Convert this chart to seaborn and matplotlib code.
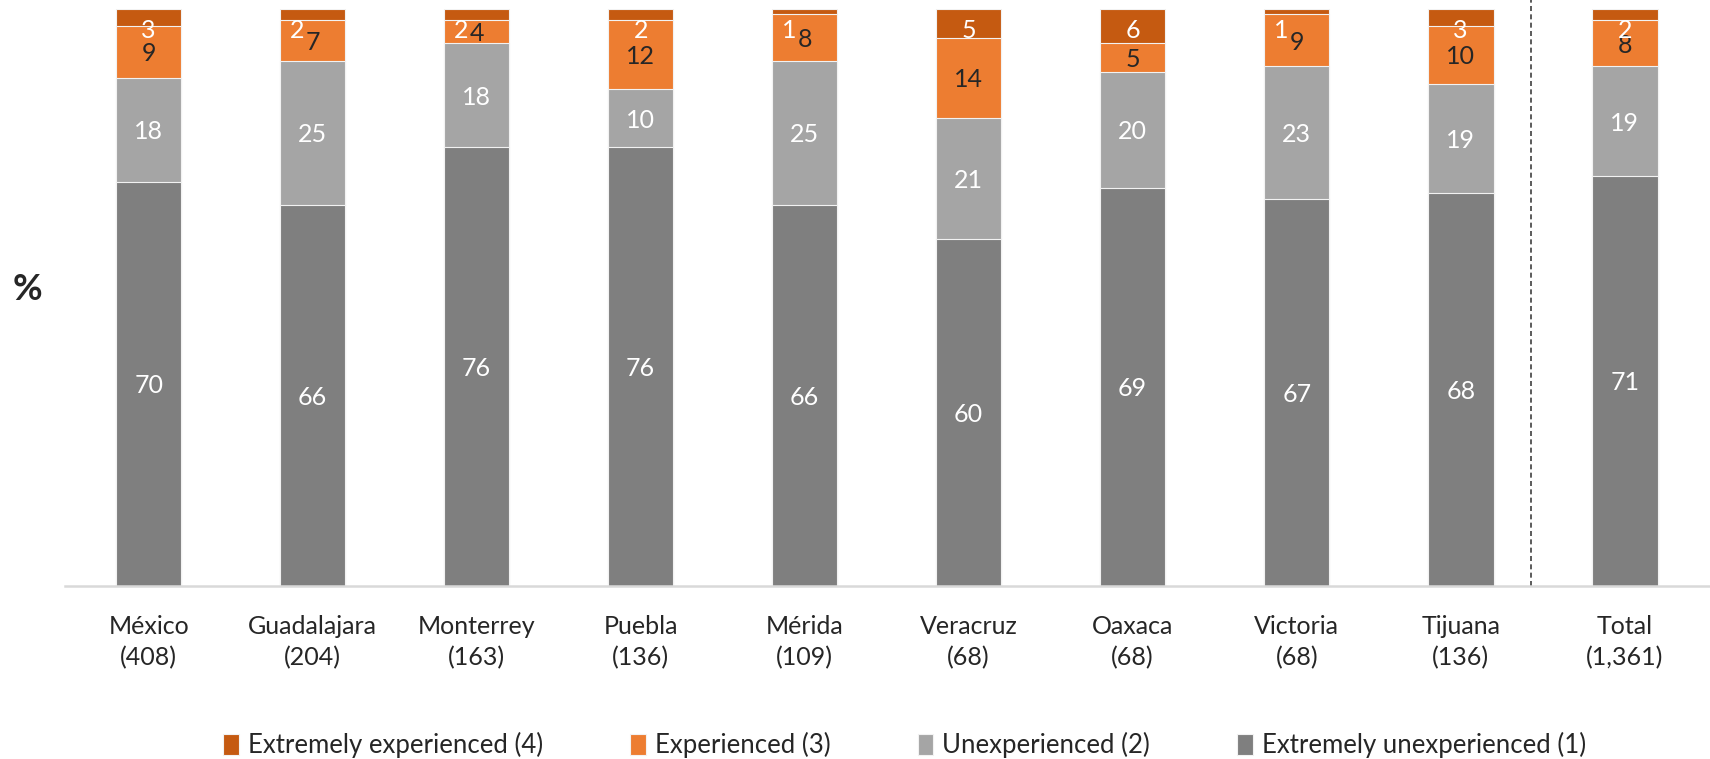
import numpy as np
import pandas as pd
import matplotlib as mpl
mpl.use("Agg")
import matplotlib.pyplot as plt
import seaborn as sns

# data
cities = ["México", "Guadalajara", "Monterrey", "Puebla", "Mérida",
          "Veracruz", "Oaxaca", "Victoria", "Tijuana", "Total"]
n_obs = ["408", "204", "163", "136", "109", "68", "68", "68", "136", "1,361"]

extremely_unexp = [70, 66, 76, 76, 66, 60, 69, 67, 68, 71]   # (1)
unexp = [18, 25, 18, 10, 25, 21, 20, 23, 19, 19]             # (2)
experienced = [9, 7, 4, 12, 8, 14, 5, 9, 10, 8]              # (3)
extremely_exp = [3, 2, 2, 2, 1, 5, 6, 1, 3, 2]               # (4)

series_names = ["Extremely unexperienced (1)", "Unexperienced (2)",
                "Experienced (3)", "Extremely experienced (4)"]
series_vals = [extremely_unexp, unexp, experienced, extremely_exp]
colors = ["#7f7f7f", "#a5a5a5", "#ed7d31", "#c55a11"]
label_colors = ["white", "white", "#262626", "white"]

sns.set_style("white")
plt.rcParams['font.family'] = ['Lato', 'DejaVu Sans']

vals = np.array(series_vals, dtype=float)
cum = np.cumsum(vals, axis=0)

fig = plt.figure(figsize=(17.1, 7.59), dpi=100)
ax = fig.add_axes([0.038, 0.2285, 0.962, 0.76])

# stacked bars: draw the cumulative totals from the top series down
for k in range(3, -1, -1):
    df = pd.DataFrame({"city": cities, "value": cum[k]})
    sns.barplot(data=df, x="city", y="value", color=colors[k], saturation=1,
                width=0.4, edgecolor="#f2f2f2", linewidth=0.8,
                label=series_names[k], ax=ax)

# value labels
for i in range(len(cities)):
    for k in range(4):
        v = vals[k, i]
        bottom = cum[k, i] - v
        c = bottom + v / 2
        dx = 0
        if k == 3:
            c = min(c, 96.6)
            orange_c = cum[1, i] + vals[2, i] / 2
            if orange_c >= 94.5:
                dx = -11
        ax.annotate(f"{int(v)}", (i, c), xytext=(dx, 0), textcoords="offset points",
                    ha="center", va="center_baseline", fontsize=18,
                    color=label_colors[k])

# dashed separator before Total
ax.plot([8.43, 8.43], [0, 101.6], ls=(0, (3, 2)), color="#404040", lw=1.2,
        clip_on=False)

ax.set_xlim(-0.51, 9.52)
ax.set_ylim(0, 100)
ax.set_xlabel("")
ax.set_ylabel("")
ax.set_yticks([])
ax.set_xticks(range(len(cities)))
ax.set_xticklabels([f"{c}\n({n})" for c, n in zip(cities, n_obs)],
                   fontsize=18, linespacing=1.45, color="#262626")
ax.tick_params(axis="x", length=0, pad=21)
for s in ["top", "left", "right"]:
    ax.spines[s].set_visible(False)
ax.spines["bottom"].set_color("#d9d9d9")
ax.spines["bottom"].set_linewidth(1.8)

fig.text(0.016, 1 - 289 / 759, "%", fontsize=26, fontweight="bold",
         ha="center", va="center", color="#262626")

handles, labels = ax.get_legend_handles_labels()
ax.legend(handles, labels, loc="center", bbox_to_anchor=(0.529, 0.018),
          bbox_transform=fig.transFigure, ncol=4, frameon=False, fontsize=18.5,
          handlelength=0.6, handleheight=0.9, handletextpad=0.35,
          columnspacing=3.4, labelcolor="#262626")

fig.savefig("out.png", dpi=100)
